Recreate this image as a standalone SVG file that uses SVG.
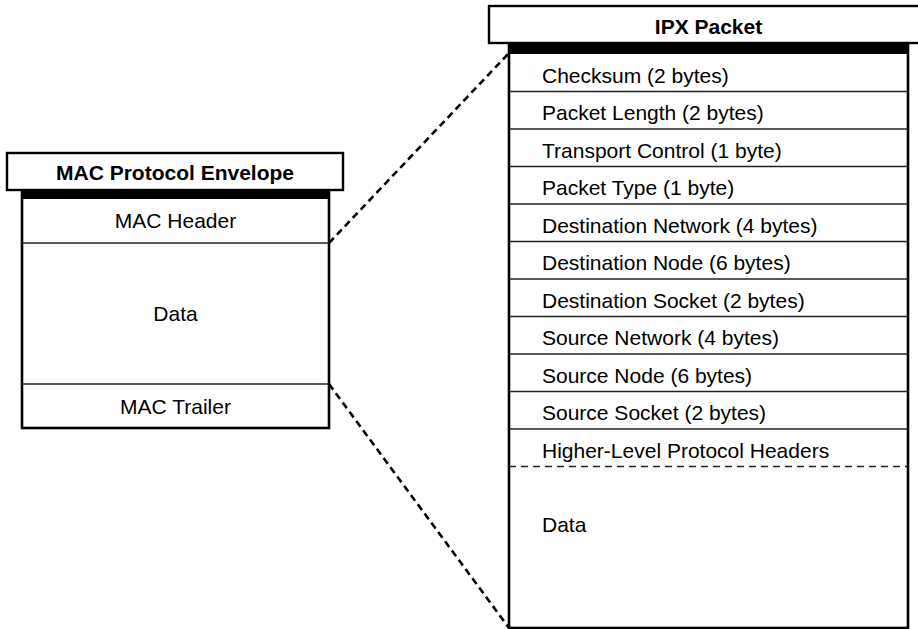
<svg xmlns="http://www.w3.org/2000/svg" width="918" height="629" viewBox="0 0 918 629">
<style>
text{font-family:"Liberation Sans",Arial,sans-serif;font-size:21px;fill:#000}
.t{font-weight:bold}
.c{text-anchor:middle}
.box{fill:#fff;stroke:#000;stroke-width:2.6}
.hdr{fill:#fff;stroke:#000;stroke-width:2.4}
.band{fill:#000}
.row{stroke:#222;stroke-width:1.5}
.dr{stroke:#222;stroke-width:1.5;stroke-dasharray:7 5}
.conn{stroke:#000;stroke-width:2.6;stroke-dasharray:7 4.5;fill:none}
</style>
<g id="mac-envelope">
<rect class="box" x="22" y="190" width="307" height="238"/>
<rect class="band" x="22" y="189" width="307" height="10"/>
<rect class="hdr" x="7" y="153" width="336" height="37"/>
<text class="t c" x="175" y="180">MAC Protocol Envelope</text>
<line class="row" x1="22" y1="243" x2="329" y2="243"/>
<line class="row" x1="22" y1="384" x2="329" y2="384"/>
<text class="c" x="175.5" y="228">MAC Header</text>
<text class="c" x="175.5" y="321">Data</text>
<text class="c" x="175.5" y="414">MAC Trailer</text>
</g>
<g id="ipx-packet">
<rect class="box" x="509" y="43" width="399" height="585"/>
<rect class="band" x="509" y="43" width="399" height="11"/>
<rect class="hdr" x="489" y="6" width="440" height="37"/>
<text class="t c" x="708.5" y="34">IPX Packet</text>
<line class="row" x1="509" y1="91.5" x2="908" y2="91.5"/>
<line class="row" x1="509" y1="129" x2="908" y2="129"/>
<line class="row" x1="509" y1="166.5" x2="908" y2="166.5"/>
<line class="row" x1="509" y1="204" x2="908" y2="204"/>
<line class="row" x1="509" y1="241.5" x2="908" y2="241.5"/>
<line class="row" x1="509" y1="279" x2="908" y2="279"/>
<line class="row" x1="509" y1="316.5" x2="908" y2="316.5"/>
<line class="row" x1="509" y1="354" x2="908" y2="354"/>
<line class="row" x1="509" y1="391.5" x2="908" y2="391.5"/>
<line class="row" x1="509" y1="429" x2="908" y2="429"/>
<line class="dr" x1="509" y1="466.5" x2="908" y2="466.5"/>
<text x="542" y="83">Checksum (2 bytes)</text>
<text x="542" y="120">Packet Length (2 bytes)</text>
<text x="542" y="157.5">Transport Control (1 byte)</text>
<text x="542" y="195">Packet Type (1 byte)</text>
<text x="542" y="232.5">Destination Network (4 bytes)</text>
<text x="542" y="270">Destination Node (6 bytes)</text>
<text x="542" y="307.5">Destination Socket (2 bytes)</text>
<text x="542" y="345">Source Network (4 bytes)</text>
<text x="542" y="382.5">Source Node (6 bytes)</text>
<text x="542" y="420">Source Socket (2 bytes)</text>
<text x="542" y="457.5">Higher-Level Protocol Headers</text>
<text x="542" y="532">Data</text>
</g>
<g id="connectors">
<line class="conn" x1="329" y1="243" x2="509" y2="53"/>
<line class="conn" x1="329" y1="384" x2="509" y2="628"/>
</g>
</svg>
